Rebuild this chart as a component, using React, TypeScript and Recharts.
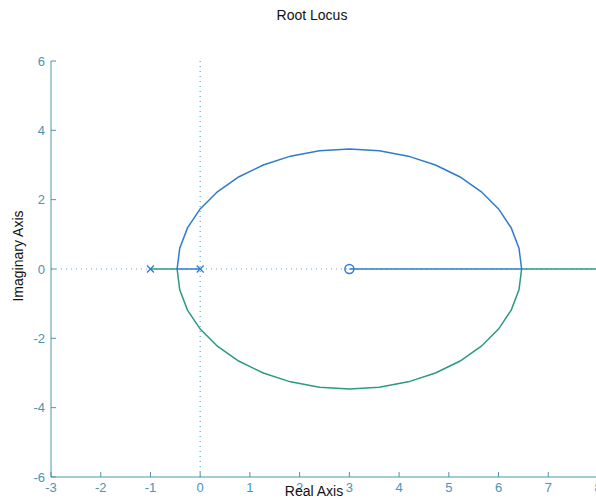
import React from 'react';
import { ComposedChart, Line, Scatter, XAxis, YAxis, ReferenceLine } from 'recharts';

// real axis ticks and imaginary axis ticks
const realTicks = [-3, -2, -1, 0, 1, 2, 3, 4, 5, 6, 7, 8];
const imagTicks = [-6, -4, -2, 0, 2, 4, 6];

// open loop poles and zero
const poles = [{ x: -1, y: 0 }, { x: 0, y: 0 }];
const zeros = [{ x: 3, y: 0 }];

// locus points (circle round the zero)
const arcX = [-0.464, -0.411, -0.255, 0.0, 0.346, 0.773, 1.268, 1.815, 2.399, 3.0, 3.601, 4.185, 4.732, 5.227, 5.654, 6.0, 6.255, 6.411, 6.464];
const upperArcY = [0, 0.601, 1.185, 1.732, 2.227, 2.654, 3.0, 3.255, 3.411, 3.464, 3.411, 3.255, 3.0, 2.654, 2.227, 1.732, 1.185, 0.601, 0];
const lowerArcY = [0, -0.601, -1.185, -1.732, -2.227, -2.654, -3.0, -3.255, -3.411, -3.464, -3.411, -3.255, -3.0, -2.654, -2.227, -1.732, -1.185, -0.601, 0];

const blueBranch = [{ x: 0, y: 0 }, ...arcX.map((x, i) => ({ x, y: upperArcY[i] })), { x: 3, y: 0 }];
const greenBranch = [{ x: -1, y: 0 }, ...arcX.map((x, i) => ({ x, y: lowerArcY[i] })), { x: 8, y: 0 }];

const axisColor = '#4a94b4';
const blue = '#2f7bd0';
const green = '#2a9a82';

const Cross = (props: any) => {
  const { cx, cy } = props;
  const s = 3.5;
  return (
    <g stroke={blue} strokeWidth={1.3}>
      <line x1={cx - s} y1={cy - s} x2={cx + s} y2={cy + s} />
      <line x1={cx - s} y1={cy + s} x2={cx + s} y2={cy - s} />
    </g>
  );
};

const Ring = (props: any) => {
  const { cx, cy } = props;
  return <circle cx={cx} cy={cy} r={4.5} fill="none" stroke={blue} strokeWidth={1.5} />;
};

export default function App() {
  const tickStyle = { fill: axisColor, fontSize: 13 };
  return (
    <div
      style={{
        position: 'absolute',
        top: 0,
        left: 0,
        width: 596,
        height: 499,
        overflow: 'hidden',
        background: '#fff',
        fontFamily: '"Liberation Sans", Arial, sans-serif',
      }}
    >
      <div style={{ position: 'absolute', top: 7, left: 312, transform: 'translateX(-50%)', fontSize: 14, color: '#111', whiteSpace: 'nowrap' }}>
        Root Locus
      </div>
      <div
        style={{
          position: 'absolute',
          left: 18,
          top: 256,
          transform: 'translate(-50%, -50%) rotate(-90deg)',
          fontSize: 14,
          color: '#111',
          whiteSpace: 'nowrap',
        }}
      >
        Imaginary Axis
      </div>
      <ComposedChart width={620} height={499} margin={{ top: 61, right: 22, bottom: 0, left: 0 }}>
        <XAxis
          dataKey="x"
          type="number"
          domain={[-3, 8]}
          ticks={realTicks}
          allowDataOverflow
          stroke={axisColor}
          tick={tickStyle}
          tickSize={-5}
          tickMargin={11}
          height={22}
          interval={0}
        />
        <XAxis
          xAxisId="top"
          orientation="top"
          dataKey="x"
          type="number"
          domain={[-3, 8]}
          ticks={realTicks}
          allowDataOverflow
          stroke={axisColor}
          tick={false}
          tickSize={-5}
          height={0}
          interval={0}
        />
        <YAxis
          type="number"
          domain={[-6, 6]}
          ticks={imagTicks}
          allowDataOverflow
          stroke={axisColor}
          tick={tickStyle}
          tickSize={-5}
          tickMargin={11}
          width={51}
          interval={0}
        />
        <ReferenceLine y={0} stroke="#5aa8d8" strokeDasharray="1 4" strokeWidth={1.2} />
        <ReferenceLine x={0} stroke="#5aa8d8" strokeDasharray="1 4" strokeWidth={1.2} />
        <Line data={greenBranch} dataKey="y" type="linear" stroke={green} strokeWidth={1.5} dot={false} activeDot={false} isAnimationActive={false} />
        <Line data={blueBranch} dataKey="y" type="linear" stroke={blue} strokeWidth={1.5} dot={false} activeDot={false} isAnimationActive={false} />
        <Scatter data={poles} dataKey="y" shape={<Cross />} isAnimationActive={false} />
        <Scatter data={zeros} dataKey="y" shape={<Ring />} isAnimationActive={false} />
      </ComposedChart>
      <div style={{ position: 'absolute', top: 483, left: 314, transform: 'translateX(-50%)', fontSize: 14, color: '#111', whiteSpace: 'nowrap' }}>
        Real Axis
      </div>
    </div>
  );
}
